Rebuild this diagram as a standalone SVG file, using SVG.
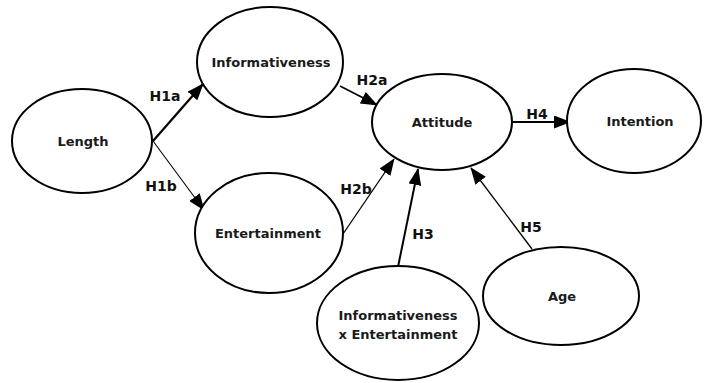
<svg xmlns="http://www.w3.org/2000/svg" width="705" height="383" viewBox="0 0 705 383">
<defs>
<marker id="ah" markerUnits="userSpaceOnUse" markerWidth="17" markerHeight="13" viewBox="0 0 17 13" refX="16" refY="6.5" orient="auto">
<path d="M0,0 L17,6.5 L0,13 Z" fill="#000"/>
</marker>
</defs>
<style>
.n ellipse{fill:#fff;stroke:#000;stroke-width:2}
.n text{font-family:"DejaVu Sans",Verdana,sans-serif;font-weight:bold;font-size:13px;fill:#1a1a1a;text-anchor:middle}
.c line{stroke:#000;marker-end:url(#ah)}
.c text{font-family:"DejaVu Sans",Verdana,sans-serif;font-weight:bold;font-size:14px;fill:#111;text-anchor:middle}
</style>
<rect width="705" height="383" fill="#fff"/>
<g class="c" id="connectors">
<line x1="153" y1="141" x2="203" y2="84" stroke-width="2.2"/>
<line x1="153" y1="141" x2="204" y2="210" stroke-width="1.1"/>
<line x1="340" y1="86" x2="377" y2="105" stroke-width="1.6"/>
<line x1="343" y1="234" x2="394" y2="159" stroke-width="1.3"/>
<line x1="398" y1="267" x2="418" y2="169" stroke-width="2"/>
<line x1="532" y1="249" x2="471" y2="168" stroke-width="1.3"/>
<line x1="512" y1="122" x2="570" y2="122" stroke-width="2.2"/>
<text x="165" y="101">H1a</text>
<text x="161" y="191">H1b</text>
<text x="372" y="85">H2a</text>
<text x="356" y="194">H2b</text>
<text x="423" y="239">H3</text>
<text x="531" y="232">H5</text>
<text x="537" y="119">H4</text>
</g>
<g class="n" id="length"><ellipse cx="82" cy="141" rx="70" ry="52"/><text x="83" y="146">Length</text></g>
<g class="n" id="informativeness"><ellipse cx="270" cy="62" rx="73" ry="55"/><text x="271" y="67">Informativeness</text></g>
<g class="n" id="entertainment"><ellipse cx="269" cy="233" rx="74" ry="60"/><text x="268" y="238">Entertainment</text></g>
<g class="n" id="attitude"><ellipse cx="442" cy="122" rx="70" ry="48"/><text x="442" y="127">Attitude</text></g>
<g class="n" id="intention"><ellipse cx="634" cy="121" rx="67" ry="52"/><text x="640" y="126">Intention</text></g>
<g class="n" id="interaction"><ellipse cx="398" cy="323" rx="81" ry="57"/><text x="398" y="320">Informativeness</text><text x="398" y="339">x Entertainment</text></g>
<g class="n" id="age"><ellipse cx="561" cy="296" rx="78" ry="49"/><text x="562" y="301">Age</text></g>
</svg>
